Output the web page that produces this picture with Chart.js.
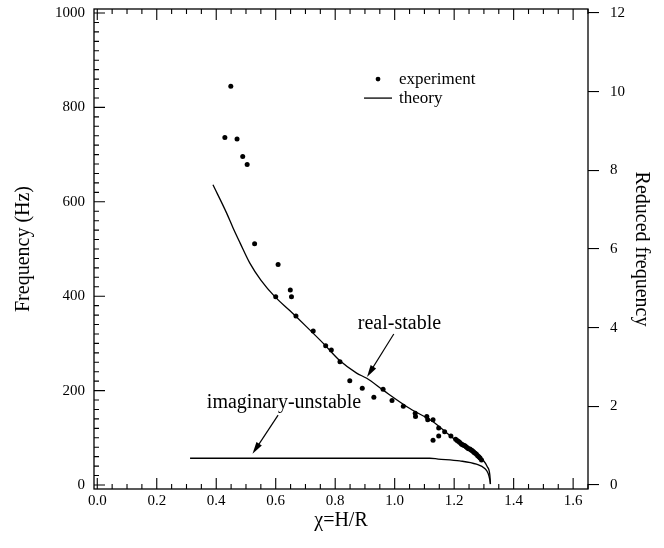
<!DOCTYPE html>
<html>
<head>
<meta charset="utf-8">
<script src="https://cdn.jsdelivr.net/npm/chart.js@4.4.0/dist/chart.umd.min.js"></script>
<style>
  html, body { margin: 0; padding: 0; background: #fff; }
</style>
</head>
<body>
<canvas id="chart" width="664" height="548"></canvas>
<script>
// experiment points (chi = H/R, frequency in Hz)
const expX = [0.449, 0.429, 0.470, 0.489, 0.504, 0.529, 0.608, 0.600, 0.649, 0.653,
              0.668, 0.726, 0.768, 0.787, 0.816, 0.849, 0.891, 0.930, 0.961, 0.991,
              1.029, 1.069, 1.070, 1.108, 1.111, 1.129, 1.148, 1.168, 1.129, 1.148,
              1.189, 1.205, 1.210, 1.215, 1.219, 1.224, 1.228, 1.232, 1.236, 1.240,
              1.244, 1.248, 1.253, 1.257, 1.260, 1.264, 1.267, 1.271, 1.275, 1.279,
              1.283, 1.287, 1.292];
const expY = [845, 736, 733, 696, 679, 511, 467, 399, 413, 399,
              358, 326, 295, 286, 261, 221, 205, 186, 203, 179,
              167, 152, 145, 145, 138, 138, 121, 113, 95, 104,
              104, 97, 94, 92, 90, 87, 85, 84, 83, 81,
              79, 77, 76, 74, 73, 71, 69, 67, 65, 62,
              60, 57, 53];

// theory, real-stable branch
const realX = [0.389, 0.435, 0.457, 0.480, 0.513, 0.550, 0.597, 0.648, 0.704, 0.760,
               0.816, 0.872, 0.906, 0.961, 1.051, 1.129, 1.197, 1.264, 1.297, 1.311,
               1.320, 1.322];
const realY = [636, 576, 544, 513, 470, 434, 399, 369, 335, 300,
               263, 237, 226, 201, 162, 134, 99, 71, 53, 39,
               21, 2];

// theory, imaginary-unstable branch
const imagX = [0.312, 1.118, 1.146, 1.219, 1.275, 1.303, 1.314, 1.320, 1.322];
const imagY = [56.6, 56.6, 55, 51, 44, 35, 25, 11, 2];

const xTicks = [0, 0.2, 0.4, 0.6, 0.8, 1.0, 1.2, 1.4, 1.6];
const yTicks = [0, 200, 400, 600, 800, 1000];
const y2Ticks = [0, 2, 4, 6, 8, 10, 12];
const hzPerUnit = 1000 / 12;

const yMin = -8.5, yMax = 1008.5;
const serif = 'Liberation Serif, Times New Roman, serif';

function pts(xs, ys) {
    return xs.map((v, i) => ({ x: v, y: ys[i] }));
}

// labels with arrows, in data units
const notes = [
    { text: 'real-stable', at: [1.016, 341], from: [0.997, 320], to: [0.907, 229] },
    { text: 'imaginary-unstable', at: [0.628, 174], from: [0.608, 148], to: [0.522, 66] }
];

function arrow(ctx, x1, y1, x2, y2) {
    const ang = Math.atan2(y2 - y1, x2 - x1);
    const len = 12, half = 3.2;
    ctx.beginPath();
    ctx.moveTo(x1, y1);
    ctx.lineTo(x2 - Math.cos(ang) * len * 0.8, y2 - Math.sin(ang) * len * 0.8);
    ctx.stroke();
    ctx.beginPath();
    ctx.moveTo(x2, y2);
    ctx.lineTo(x2 - Math.cos(ang) * len + Math.sin(ang) * half, y2 - Math.sin(ang) * len - Math.cos(ang) * half);
    ctx.lineTo(x2 - Math.cos(ang) * len - Math.sin(ang) * half, y2 - Math.sin(ang) * len + Math.cos(ang) * half);
    ctx.closePath();
    ctx.fill();
}

// box, inward ticks, legend and annotations
const frame = {
    id: 'frame',
    afterDraw(chart) {
        const { ctx, chartArea: a, scales: { x, y } } = chart;
        ctx.save();
        ctx.strokeStyle = '#000';
        ctx.fillStyle = '#000';
        ctx.lineWidth = 1.3;
        ctx.strokeRect(a.left, a.top, a.right - a.left, a.bottom - a.top);

        ctx.lineWidth = 1.1;
        ctx.beginPath();
        for (let i = 0; i <= 33; i++) {
            const px = x.getPixelForValue(i * 0.05);
            const len = i % 4 === 0 ? 11 : 5;
            ctx.moveTo(px, a.bottom); ctx.lineTo(px, a.bottom - len);
            ctx.moveTo(px, a.top); ctx.lineTo(px, a.top + len);
        }
        for (let i = 0; i <= 50; i++) {
            const py = y.getPixelForValue(i * 20);
            const len = i % 10 === 0 ? 11 : 5;
            ctx.moveTo(a.left, py); ctx.lineTo(a.left + len, py);
        }
        ctx.stroke();

        // legend
        const lx = x.getPixelForValue(0.944), ly = y.getPixelForValue(860);
        ctx.beginPath();
        ctx.arc(lx, ly, 2.4, 0, Math.PI * 2);
        ctx.fill();
        ctx.lineWidth = 1.3;
        ctx.beginPath();
        ctx.moveTo(lx - 14, ly + 19); ctx.lineTo(lx + 14, ly + 19);
        ctx.stroke();
        ctx.font = '17px ' + serif;
        ctx.textAlign = 'left';
        ctx.textBaseline = 'middle';
        ctx.fillText('experiment', lx + 21, ly);
        ctx.fillText('theory', lx + 21, ly + 19);

        // annotations
        ctx.font = '20px ' + serif;
        ctx.textAlign = 'center';
        ctx.lineWidth = 1.2;
        notes.forEach(n => {
            ctx.fillText(n.text, x.getPixelForValue(n.at[0]), y.getPixelForValue(n.at[1]));
            arrow(ctx, x.getPixelForValue(n.from[0]), y.getPixelForValue(n.from[1]),
                  x.getPixelForValue(n.to[0]), y.getPixelForValue(n.to[1]));
        });
        ctx.restore();
    }
};

const tickFont = { family: serif, size: 15 };
const titleFont = { family: serif, size: 20 };

function noPad(s) {
    s.paddingTop = 0; s.paddingBottom = 0; s.paddingLeft = 0; s.paddingRight = 0;
}

new Chart(document.getElementById('chart'), {
    type: 'scatter',
    data: {
        datasets: [
            {
                label: 'experiment',
                data: pts(expX, expY),
                pointRadius: 2.5,
                pointBackgroundColor: '#000',
                pointBorderWidth: 0,
                showLine: false
            },
            {
                label: 'theory',
                data: pts(realX, realY),
                showLine: true,
                pointRadius: 0,
                borderColor: '#000',
                borderWidth: 1.3,
                cubicInterpolationMode: 'monotone'
            },
            {
                label: 'theory-imag',
                data: pts(imagX, imagY),
                showLine: true,
                pointRadius: 0,
                borderColor: '#000',
                borderWidth: 1.3,
                cubicInterpolationMode: 'monotone'
            }
        ]
    },
    options: {
        responsive: false,
        animation: false,
        layout: { padding: { top: 9, left: 0, right: 0, bottom: 0 } },
        plugins: { legend: { display: false }, tooltip: { enabled: false } },
        scales: {
            x: {
                type: 'linear',
                min: -0.011,
                max: 1.65,
                afterBuildTicks: s => { s.ticks = xTicks.map(v => ({ value: v })); },
                afterFit: s => { s.height = 59; noPad(s); },
                grid: { display: false, drawTicks: false },
                border: { display: false },
                ticks: { color: '#000', font: tickFont, padding: 3, maxRotation: 0,
                         callback: v => v.toFixed(1) },
                title: { display: true, text: 'χ=H/R', color: '#000', font: titleFont,
                         padding: { top: 0, bottom: 15 } }
            },
            y: {
                type: 'linear',
                position: 'left',
                min: yMin,
                max: yMax,
                afterBuildTicks: s => { s.ticks = yTicks.map(v => ({ value: v })); },
                afterFit: s => { s.width = 94; noPad(s); },
                grid: { display: false, drawTicks: false },
                border: { display: false },
                ticks: { color: '#000', font: tickFont, padding: 9, callback: v => String(v) },
                title: { display: true, text: 'Frequency (Hz)', color: '#000', font: titleFont,
                         padding: { top: 12, bottom: 0 } }
            },
            y2: {
                type: 'linear',
                position: 'right',
                min: yMin / hzPerUnit,
                max: yMax / hzPerUnit,
                afterBuildTicks: s => { s.ticks = y2Ticks.map(v => ({ value: v })); },
                afterFit: s => { s.width = 76; noPad(s); },
                grid: { display: true, drawOnChartArea: false, drawTicks: true,
                        tickLength: 11, color: '#000', lineWidth: 1.1 },
                border: { display: false },
                ticks: { color: '#000', font: tickFont, padding: 11, callback: v => String(v) },
                title: { display: true, text: 'Reduced frequency', color: '#000', font: titleFont,
                         padding: { top: 11, bottom: 0 } }
            }
        }
    },
    plugins: [frame]
});
</script>
</body>
</html>
